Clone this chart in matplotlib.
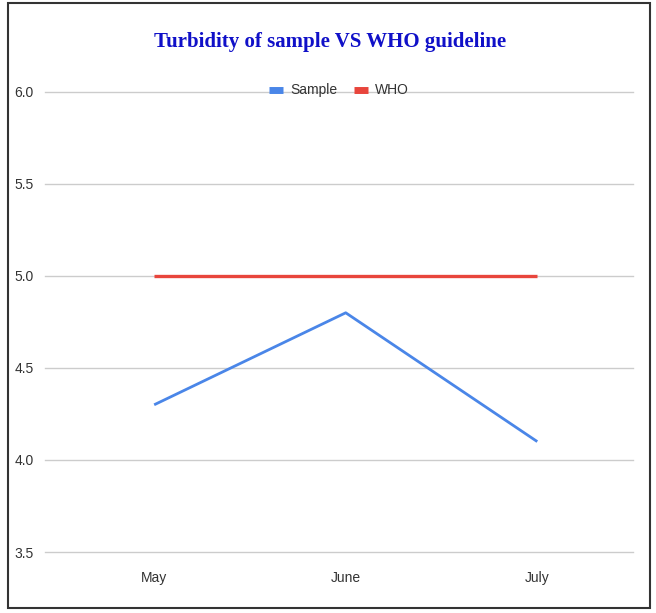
import matplotlib

matplotlib.use("Agg")
import matplotlib.pyplot as plt
from matplotlib.patches import Rectangle

months = ["May", "June", "July"]
sample = [4.3, 4.8, 4.1]
who = [5.0, 5.0, 5.0]
y_ticks = [3.5, 4.0, 4.5, 5.0, 5.5, 6.0]

SAMPLE_COLOR = "#4a86e8"
WHO_COLOR = "#e8453c"

fig = plt.figure(figsize=(6.56, 6.13), dpi=100)
ax = fig.add_axes([0.0686, 0.0995, 0.8964, 0.7505])

x = list(range(len(months)))
ax.plot(x, sample, color=SAMPLE_COLOR, lw=2, label="Sample", solid_capstyle="butt")
ax.plot(x, who, color=WHO_COLOR, lw=2.4, label="WHO", solid_capstyle="butt")

ax.set_xlim(-0.57, 2.5)
ax.set_ylim(3.5, 6.0)
ax.set_yticks(y_ticks)
ax.set_yticklabels([f"{v:.1f}" for v in y_ticks])
ax.set_xticks(x)
ax.set_xticklabels(months)
ax.tick_params(length=0, labelsize=10, labelcolor="#333333", pad=8)
ax.tick_params(axis="x", pad=14)
for lab in ax.get_xticklabels() + ax.get_yticklabels():
    lab.set_fontfamily("Liberation Sans")

ax.grid(True, axis="y", color="#cccccc", lw=1)
for gl in ax.get_ygridlines():
    gl.set_clip_on(False)
ax.set_axisbelow(True)
for s in ax.spines.values():
    s.set_visible(False)

leg = ax.legend(loc="center", bbox_to_anchor=(0.5, 1.005), ncol=2, frameon=False,
                handlelength=1.0, handleheight=0.3, columnspacing=1.2, handletextpad=0.5,
                prop={"family": "Liberation Sans", "size": 10})
for t in leg.get_texts():
    t.set_color("#333333")
for h in leg.get_lines():
    h.set_linewidth(5)

fig.text(0.503, 0.932, "Turbidity of sample VS WHO guideline", ha="center", va="center",
         color="#1010c8", fontsize=15, fontweight="bold", family="Liberation Serif")

fig.patches.append(Rectangle((8 / 656, 5 / 613), 642 / 656, 605 / 613, transform=fig.transFigure,
                             fill=False, edgecolor="#333333", lw=1.5))

fig.savefig("out.png", dpi=100)
